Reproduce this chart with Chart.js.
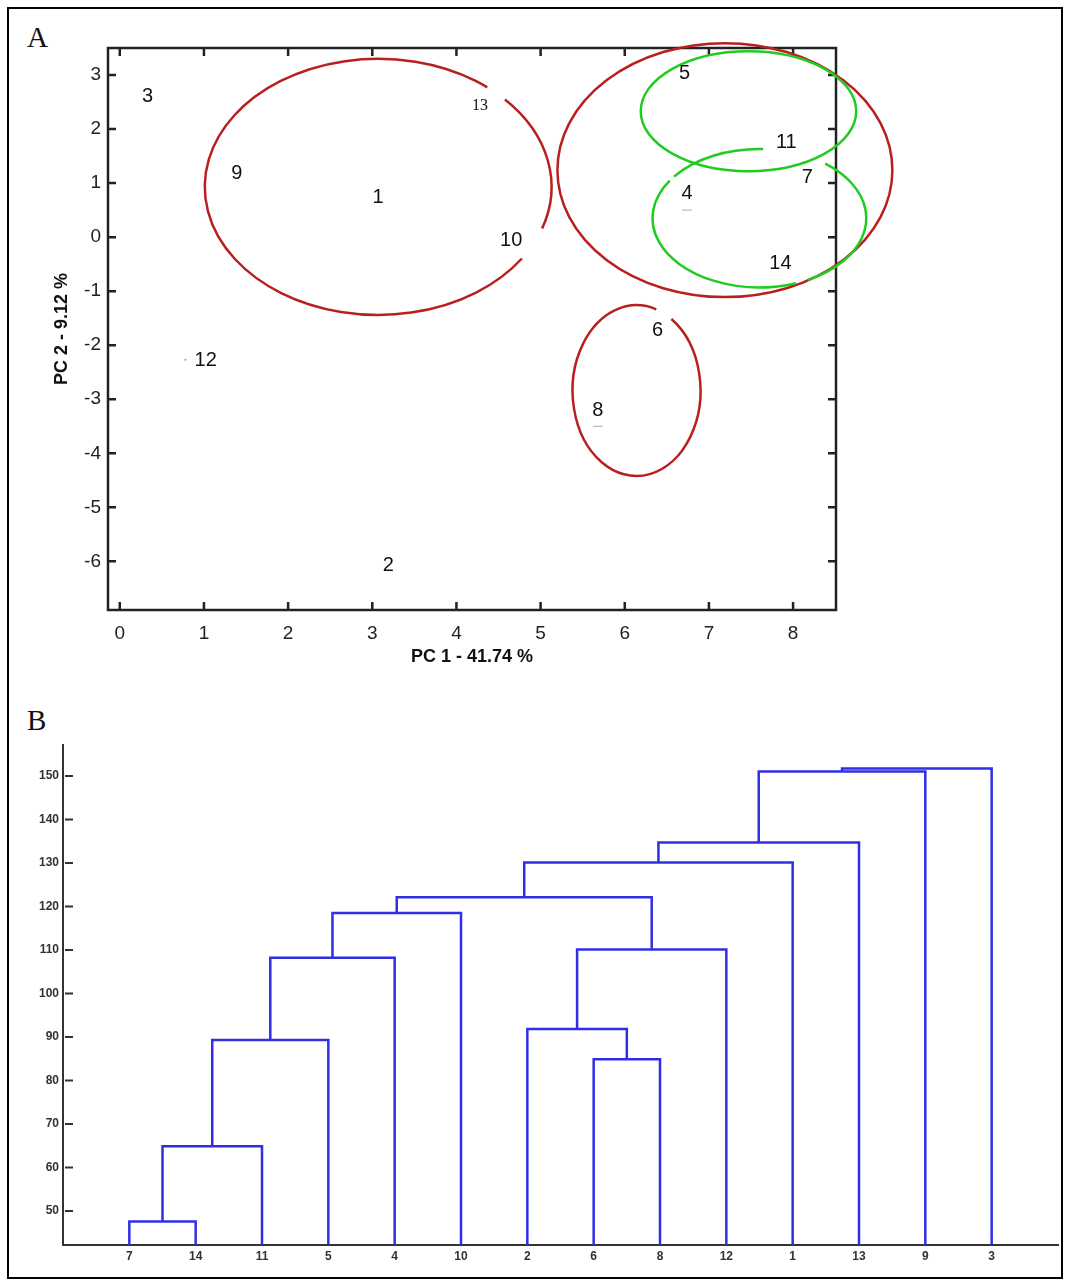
<!DOCTYPE html>
<html>
<head>
<meta charset="utf-8">
<script src="https://cdn.jsdelivr.net/npm/chart.js@4.4.1/dist/chart.umd.min.js"></script>
<style>
  body { margin: 0; background: #fff; }
  #frame { position: absolute; left: 7px; top: 7px; width: 1052px; height: 1268px; border: 2px solid #000; }
  .tag { position: absolute; font-family: "Liberation Serif", serif; font-size: 29px; line-height: 1; color: #111; }
  canvas { position: absolute; left: 0; }
</style>
</head>
<body>
<div id="frame"></div>
<div class="tag" style="left:27px;top:23px">A</div>
<div class="tag" style="left:27px;top:706px">B</div>
<canvas id="pca" width="1065" height="690" style="top:0"></canvas>
<canvas id="tree" width="1065" height="591" style="top:690px"></canvas>
<script>
// ---- panel A : PCA scores ----
const sampleIds = ['1', '2', '3', '4', '5', '6', '7', '8', '9', '10', '11', '12', '13', '14'];
const pc1 = [3.07, 3.19, 0.33, 6.74, 6.71, 6.39, 8.17, 5.68, 1.39, 4.65, 7.92, 1.02, 4.28, 7.85];
const pc2 = [0.74, -6.07, 2.61, 0.80, 3.02, -1.72, 1.11, -3.20, 1.17, -0.06, 1.76, -2.28, 2.43, -0.48];

// stray plot marks under / beside some labels
const markX = [6.74, 5.68];
const markY = [0.50, -3.50];
const dotX = [0.78];
const dotY = [-2.27];

// group ellipses (centre, half-axes in PC units)
const ellCx = [3.07, 7.19, 7.47, 7.60, 6.14];
const ellCy = [0.93, 1.24, 2.33, 0.35, -2.84];
const ellRx = [2.06, 1.99, 1.28, 1.27, 0.76];
const ellRy = [2.37, 2.35, 1.11, 1.28, 1.58];
const ellGroup = ['red', 'red', 'green', 'green', 'red'];
const ellGaps = [[[-51, -43], [19, 34]], [], [], [[-147, -143], [-88, -52], [63, 70]], [[-72, -57]]];

const groupColor = { red: '#b8201f', green: '#1fcc1f' };

function drawRing(ctx, cx, cy, rx, ry, gaps) {
  if (!gaps.length) {
    ctx.beginPath(); ctx.ellipse(cx, cy, rx, ry, 0, 0, Math.PI * 2); ctx.stroke();
    return;
  }
  const g = gaps.slice().sort((a, b) => a[0] - b[0]);
  for (let i = 0; i < g.length; i++) {
    const from = g[i][1];
    const to = i + 1 < g.length ? g[i + 1][0] : g[0][0] + 360;
    ctx.beginPath();
    ctx.ellipse(cx, cy, rx, ry, 0, from * Math.PI / 180, to * Math.PI / 180);
    ctx.stroke();
  }
}

const boxPlugin = {
  id: 'box',
  beforeDatasetsDraw(chart) {
    const { ctx, chartArea: a, scales: { x, y } } = chart;
    ctx.save();
    ctx.strokeStyle = '#222';
    ctx.lineWidth = 2.5;
    ctx.strokeRect(a.left, a.top, a.right - a.left, a.bottom - a.top);
    ctx.beginPath();
    x.ticks.forEach(t => {
      const px = x.getPixelForValue(t.value);
      ctx.moveTo(px, a.bottom); ctx.lineTo(px, a.bottom - 8);
      ctx.moveTo(px, a.top); ctx.lineTo(px, a.top + 8);
    });
    y.ticks.forEach(t => {
      const py = y.getPixelForValue(t.value);
      ctx.moveTo(a.left, py); ctx.lineTo(a.left + 8, py);
      ctx.moveTo(a.right, py); ctx.lineTo(a.right - 8, py);
    });
    ctx.stroke();
    ctx.restore();
  }
};

const ellipsePlugin = {
  id: 'ellipses',
  afterDatasetsDraw(chart) {
    const { ctx, scales: { x, y } } = chart;
    ctx.save();
    ctx.lineWidth = 2.5;
    ellCx.forEach((c, i) => {
      const cx = x.getPixelForValue(c), cy = y.getPixelForValue(ellCy[i]);
      const rx = Math.abs(x.getPixelForValue(c + ellRx[i]) - cx);
      const ry = Math.abs(y.getPixelForValue(ellCy[i] + ellRy[i]) - cy);
      ctx.strokeStyle = groupColor[ellGroup[i]];
      drawRing(ctx, cx, cy, rx, ry, ellGaps[i]);
    });
    ctx.restore();
  }
};

const labelPlugin = {
  id: 'sampleLabels',
  afterDatasetsDraw(chart) {
    const ctx = chart.ctx;
    const meta = chart.getDatasetMeta(0);
    ctx.save();
    ctx.fillStyle = '#111';
    ctx.textAlign = 'center';
    ctx.textBaseline = 'middle';
    meta.data.forEach((pt, i) => {
      ctx.font = sampleIds[i] === '13' ? '16px "Liberation Serif"' : '20px "Liberation Sans"';
      ctx.fillText(sampleIds[i], pt.x, pt.y);
    });
    ctx.restore();
  }
};

const axisFont = { family: 'Liberation Sans', size: 19 };
const titleFont = { family: 'Liberation Sans', size: 18, weight: 'bold' };

new Chart(document.getElementById('pca'), {
  type: 'scatter',
  data: {
    datasets: [
      { data: pc1.map((v, i) => ({ x: v, y: pc2[i] })), pointRadius: 0, showLine: false },
      { data: markX.map((v, i) => ({ x: v, y: markY[i] })), pointStyle: 'line', pointRadius: 5,
        borderColor: '#aaa', borderWidth: 1, showLine: false },
      { data: dotX.map((v, i) => ({ x: v, y: dotY[i] })), pointRadius: 1,
        backgroundColor: '#999', borderWidth: 0, showLine: false }
    ]
  },
  options: {
    responsive: false,
    animation: false,
    layout: { padding: { top: 48, right: 229, left: 0, bottom: 0 } },
    plugins: { legend: { display: false }, tooltip: { enabled: false } },
    scales: {
      x: {
        type: 'linear', min: -0.14, max: 8.51,
        afterFit: s => { s.height = 80; },
        grid: { display: false, drawTicks: false },
        border: { display: false },
        ticks: { stepSize: 1, includeBounds: false, padding: 12, color: '#222', font: axisFont },
        title: { display: true, text: 'PC 1 - 41.74 %', color: '#111', font: titleFont, padding: { top: 0, bottom: 22 } }
      },
      y: {
        type: 'linear', min: -6.9, max: 3.5,
        afterFit: s => { s.width = 108; },
        grid: { display: false, drawTicks: false },
        border: { display: false },
        ticks: { stepSize: 1, includeBounds: false, padding: 7, color: '#222', font: axisFont },
        title: { display: true, text: 'PC 2 - 9.12 %', color: '#111', font: titleFont, padding: { top: 51, bottom: 0 } }
      }
    }
  },
  plugins: [boxPlugin, ellipsePlugin, labelPlugin]
});

// ---- panel B : dendrogram ----
const leafLabels = ['7', '14', '11', '5', '4', '10', '2', '6', '8', '12', '1', '13', '9', '3'];
const linkLeft = ['7', 'c0', 'c1', 'c2', 'c3', '6', '2', 'c6', 'c4', 'c8', 'c9', 'c10', 'c11'];
const linkRight = ['14', '11', '5', '4', '10', '8', 'c5', '12', 'c7', '1', '13', '9', '3'];
const linkHeight = [47.6, 64.9, 89.3, 108.2, 118.5, 84.9, 91.8, 110.1, 122.1, 130.1, 134.7, 151.0, 151.7];

const nodes = {};
leafLabels.forEach((l, i) => { nodes[l] = { x: i + 1, h: 0 }; });
const linkSets = linkHeight.map((h, i) => {
  const a = nodes[linkLeft[i]], b = nodes[linkRight[i]];
  nodes['c' + i] = { x: (a.x + b.x) / 2, h: h };
  return {
    data: [{ x: a.x, y: a.h }, { x: a.x, y: h }, { x: b.x, y: h }, { x: b.x, y: b.h }],
    showLine: true, pointRadius: 0, borderColor: '#2f2fe6', borderWidth: 2.5, tension: 0
  };
});

const treeTicks = {
  id: 'treeTicks',
  afterDraw(chart) {
    const { ctx, chartArea: a, scales: { y } } = chart;
    ctx.save();
    ctx.strokeStyle = '#333';
    ctx.lineWidth = 2;
    ctx.beginPath();
    y.ticks.forEach(t => {
      const py = y.getPixelForValue(t.value);
      ctx.moveTo(a.left + 2, py); ctx.lineTo(a.left + 10, py);
    });
    ctx.stroke();
    ctx.restore();
  }
};

const smallFont = { family: 'Liberation Sans', size: 12, weight: 'bold' };

new Chart(document.getElementById('tree'), {
  type: 'scatter',
  data: { datasets: linkSets },
  options: {
    responsive: false,
    animation: false,
    layout: { padding: { top: 55, right: 7, left: 0, bottom: 0 } },
    plugins: { legend: { display: false }, tooltip: { enabled: false } },
    scales: {
      x: {
        type: 'linear', min: 0, max: 15,
        afterFit: s => { s.height = 36; },
        afterBuildTicks: s => { s.ticks = leafLabels.map((l, i) => ({ value: i + 1 })); },
        grid: { display: false, drawTicks: false },
        border: { display: true, color: '#333', width: 2 },
        ticks: { autoSkip: false, maxRotation: 0, padding: 4, color: '#333', font: smallFont,
          callback: v => leafLabels[v - 1] || '' }
      },
      y: {
        type: 'linear', min: 42.18, max: 157.1,
        afterFit: s => { s.width = 63; },
        grid: { display: false, drawTicks: false },
        border: { display: true, color: '#333', width: 2 },
        ticks: { stepSize: 10, includeBounds: false, padding: 4, color: '#333', font: smallFont }
      }
    }
  },
  plugins: [treeTicks]
});
</script>
</body>
</html>
